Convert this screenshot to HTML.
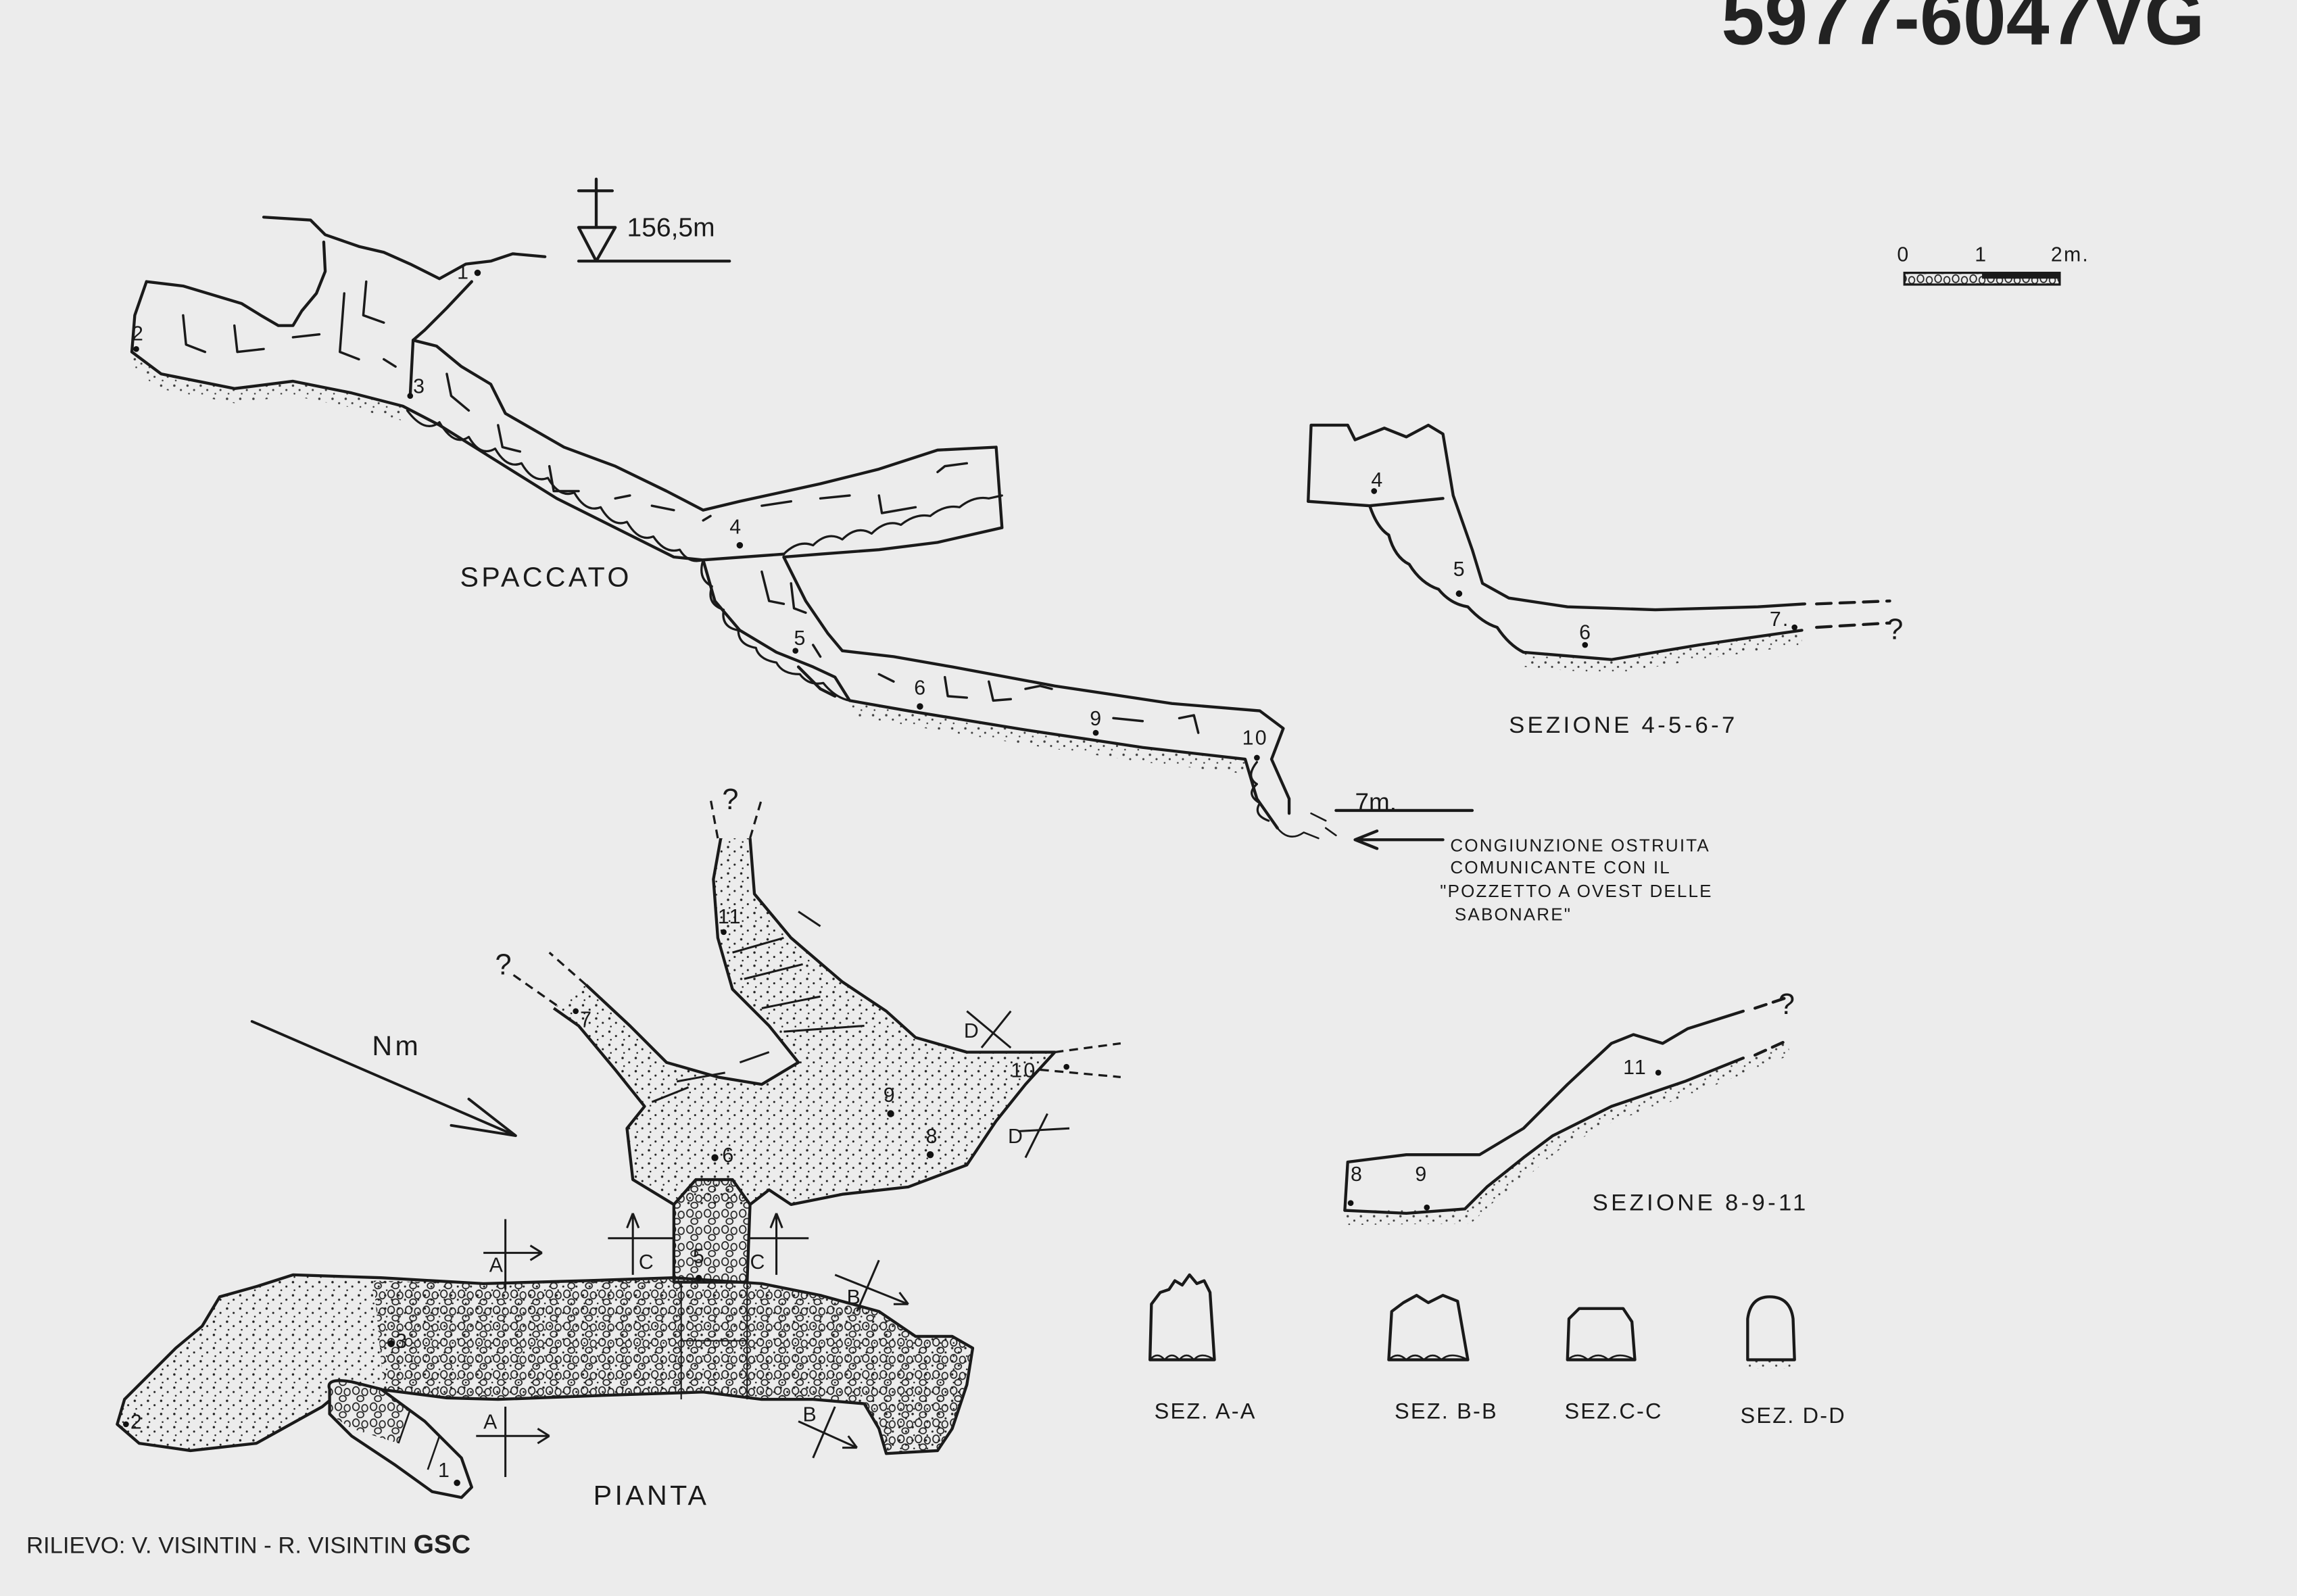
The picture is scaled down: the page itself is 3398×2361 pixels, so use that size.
<!DOCTYPE html>
<html><head><meta charset="utf-8"><style>
html,body{margin:0;padding:0;background:#ececec;}
svg{display:block;}
text{font-family:"Liberation Sans",sans-serif;fill:#1a1a1a;}
.h{font-size:19px;letter-spacing:2px;}
.s{font-size:14px;letter-spacing:1px;}
</style></head><body>
<svg width="3398" height="2361" viewBox="0 0 1568 1089" xmlns="http://www.w3.org/2000/svg">
<defs>
<pattern id="dots" width="9" height="9" patternUnits="userSpaceOnUse">
<circle cx="2" cy="2" r="0.8" fill="#222"/><circle cx="6.5" cy="5" r="0.7" fill="#222"/><circle cx="3" cy="7.5" r="0.6" fill="#222"/>
</pattern>
<pattern id="peb" width="12" height="11" patternUnits="userSpaceOnUse">
<ellipse cx="3" cy="3" rx="2.2" ry="2.6" fill="none" stroke="#222" stroke-width="0.8"/>
<ellipse cx="9" cy="4" rx="2" ry="2.4" fill="none" stroke="#222" stroke-width="0.8"/>
<ellipse cx="6" cy="8.5" rx="2.3" ry="2" fill="none" stroke="#222" stroke-width="0.8"/>
</pattern>
</defs>
<rect width="1568" height="1089" fill="#ececec"/>
<text x="1175" y="30" style="font-size:53px;font-weight:bold;fill:#222">5977-6047VG</text>
<text x="18" y="1060" style="font-size:16px;fill:#222">RILIEVO: V. VISINTIN - R. VISINTIN <tspan font-weight="bold" font-size="18">GSC</tspan></text>

<!-- stipple floors -->
<g opacity="0.85">
<polygon points="90,240 110,255 160,265 200,260 240,268 275,277 275,287 240,278 200,270 160,275 108,265 90,250" fill="url(#dots)"/>
<polygon points="580,478 620,485 700,498 780,510 850,518 850,528 780,520 700,508 620,495 580,488" fill="url(#dots)"/>
<polygon points="1040,445 1100,450 1160,440 1230,430 1230,440 1160,450 1100,460 1040,455" fill="url(#dots)"/>
<polygon points="918,826 1000,825 1015,810 1040,790 1060,775 1100,755 1150,738 1190,722 1220,710 1222,720 1192,732 1152,748 1102,765 1064,785 1046,800 1020,820 1004,835 918,836" fill="url(#dots)"/>
<rect x="1193" y="928" width="32" height="6" fill="url(#dots)"/>
</g>

<g fill="none" stroke="#1a1a1a" stroke-width="2" stroke-linejoin="round" stroke-linecap="round">
<!-- Spaccato -->
<path d="M180,148 L212,150 L222,160 L245,168 L262,172 L280,180 L300,190 L318,180 L335,178 L350,173 L372,175"/>
<path d="M90,240 L92,215 L100,192 L125,195 L165,207 L178,215 L190,222 L200,222 L206,212 L216,200 L222,185 L221,165"/>
<path d="M322,192 L305,210 L290,225 L282,232 L280,270"/>
<path d="M282,232 L298,236 L315,250 L335,262 L345,282 L385,305 L420,318 L455,335 L480,348 L505,342 L560,330 L600,320 L640,307 L680,305 L684,360 L640,370 L600,375 L560,378 L535,380 L550,410 L565,432 L575,444"/>
<path d="M90,240 L110,255 L160,265 L200,260 L240,268 L275,277 L300,290 L340,315 L380,340 L420,360 L460,380 L480,382 L535,378"/>
<path d="M480,382 L488,410 L505,430 L530,445 L555,455 L570,462 L580,478 L620,485 L700,498 L780,510 L850,518 L858,545 L872,565"/>
<path d="M575,444 L610,448 L650,455 L720,468 L800,480 L860,485 L876,497 L868,518 L880,545 L880,555"/>
<path d="M545,455 L560,470 L570,475"/>
<path d="M125,215 L127,235 L140,240 M160,222 L162,240 L180,238 M250,192 L248,215 L262,220 M200,230 L218,228 M235,200 L232,240 L245,245 M262,245 L270,250 M305,255 L308,270 L320,280 M340,290 L343,305 L355,308 M375,318 L378,335 L395,335 M420,340 L430,338 M445,345 L460,348 M480,355 L485,352 M520,345 L540,342 M560,340 L580,338 M600,338 L602,350 L625,346 M640,322 L645,318 L660,316 M520,390 L525,410 L535,412 M540,398 L542,415 L550,418 M555,440 L560,448 M600,460 L610,465 M645,462 L647,475 L660,476 M675,465 L678,478 L690,477 M700,470 L710,468 L718,470 M760,490 L780,492 M805,490 L815,488 L818,500" stroke-width="1.6"/>
<path d="M278,280 Q290,296 300,288 Q310,305 320,298 Q328,312 338,306 Q346,320 356,316 Q364,330 374,326 Q382,340 392,336 Q400,350 410,346 Q418,360 428,356 Q436,370 446,366 Q454,378 464,375 Q470,385 480,382" stroke-width="1.5"/>
<path d="M535,378 Q545,368 555,372 Q565,362 575,368 Q585,358 595,364 Q605,354 615,358 Q625,350 635,352 Q645,344 655,346 Q665,338 675,340 L684,338" stroke-width="1.5"/>
<path d="M480,382 Q476,395 486,400 Q482,412 494,416 Q492,428 504,430 Q504,440 516,442 Q518,450 530,452 Q534,460 546,460 Q552,468 562,466 Q570,476 580,478" stroke-width="1.5"/>
<path d="M858,520 Q850,530 858,535 Q850,542 860,548 Q855,556 866,560" stroke-width="1.5"/>
<path d="M872,565 Q880,575 890,568 L900,572 M895,555 L905,560 M905,565 L912,570" stroke-width="1.2"/>
<path d="M395,130 L418,130 M407,122 L407,155 M395,155 L420,155 L407,178 Z M395,178 L498,178"/>
<path d="M912,553 L1005,553"/>
<path d="M925,573 L985,573 M925,573 L940,567 M925,573 L940,579"/>
<!-- Sezione 4-5-6-7 -->
<path d="M895,290 L893,342 M895,290 L920,290 L925,300 L945,292 L960,298 L975,290 L985,296 L992,338 L1005,375 L1012,398 L1030,408 L1070,414 L1130,416 L1200,414 L1232,412"/>
<path d="M893,342 L935,345 L985,340"/>
<path d="M935,345 Q940,360 948,365 Q952,380 962,385 Q970,398 982,402 Q990,412 1002,414 Q1012,425 1022,428 Q1030,440 1040,445 L1100,450 L1160,440 L1230,430"/>
<path d="M1240,412 L1290,410 M1240,428 L1290,425" stroke-dasharray="10,6"/>
<!-- Sezione 8-9-11 -->
<path d="M918,826 L920,793 L960,788 L1010,788 L1040,770 L1070,740 L1100,712 L1115,706 L1135,712 L1152,702 L1190,690"/>
<path d="M918,826 L960,828 L1000,825 L1015,810 L1040,790 L1060,775 L1100,755 L1150,738 L1190,722"/>
<path d="M1198,688 L1222,680 M1198,720 L1220,710" stroke-dasharray="8,5"/>
<!-- Sections -->
<path d="M785,928 L786,890 L792,882 L798,880 L802,874 L807,877 L812,870 L817,876 L822,874 L826,882 L829,928 Z"/>
<path d="M948,928 L950,895 L958,889 L967,884 L975,889 L985,884 L995,888 L1002,928 Z"/>
<path d="M1070,928 L1071,900 L1078,893 L1108,893 L1114,902 L1116,928 Z"/>
<path d="M1193,928 L1193,900 Q1195,885 1208,885 Q1222,885 1224,900 L1225,928 Z"/>
<path d="M785,928 Q790,922 795,928 Q800,922 805,928 Q810,922 815,928 Q820,922 829,928 M948,928 Q954,922 960,928 Q966,922 972,928 Q978,922 984,928 Q990,922 1002,928 M1070,928 Q1077,922 1084,928 Q1091,922 1098,928 Q1105,922 1116,928" stroke-width="1.2"/>
<path d="M172,697 L352,775 M352,775 L308,768 M352,775 L320,750" stroke-width="1.8"/>
</g>

<!-- Pianta -->
<g stroke="#1a1a1a" stroke-width="2" stroke-linejoin="round" fill="none">
<path d="M460,822 L432,805 L428,770 L440,755 L420,730 L395,700 L378,688 L400,672 L430,700 L455,725 L490,735 L520,740 L545,725 L525,700 L500,675 L490,640 L487,600 L492,572 L512,572 L515,610 L540,640 L575,670 L605,690 L625,708 L660,718 L720,718 L700,740 L680,765 L660,795 L620,810 L575,815 L540,822 L525,812 L512,822 Z" fill="url(#dots)" stroke="none"/>
<path d="M460,822 L432,805 L428,770 L440,755 L420,730 L395,700 L378,688"/>
<path d="M400,672 L430,700 L455,725 L490,735 L520,740 L545,725 L525,700 L500,675 L490,640 L487,600 L492,572"/>
<path d="M512,572 L515,610 L540,640 L575,670 L605,690 L625,708 L660,718 L720,718 L700,740 L680,765 L660,795 L620,810 L575,815 L540,822 L525,812 L512,822"/>
<path d="M460,875 L460,822 L475,805 L500,805 L512,822 L510,875 Z" fill="url(#peb)"/>
<path d="M150,885 L175,878 L200,870 L260,872 L330,876 L400,874 L460,872 L520,876 L560,884 L600,895 L625,912 L650,912 L664,920 L660,945 L650,975 L640,990 L605,992 L600,975 L590,958 L555,955 L520,955 L480,950 L420,952 L340,955 L305,954 L258,948 L232,950 L220,960 L175,985 L130,990 L95,985 L80,972 L85,955 L105,935 L120,920 L138,905 Z" fill="url(#dots)"/>
<path d="M255,874 L330,876 L400,874 L460,872 L520,876 L560,884 L600,895 L625,912 L650,912 L664,920 L660,945 L650,975 L640,990 L605,992 L600,975 L590,958 L555,955 L520,955 L480,950 L420,952 L340,955 L305,954 L262,948 Z" fill="url(#peb)" stroke="none"/>
<path d="M225,948 Q222,940 240,943 L260,948 L290,970 L315,995 L322,1015 L315,1022 L295,1018 L270,1000 L240,980 L225,965 Z" fill="#ececec"/>
<path d="M225,948 Q222,940 240,943 L260,948 L280,962 L272,985 L240,975 L225,965 Z" fill="url(#peb)" stroke="none"/>
<path d="M280,962 L272,985 M300,980 L292,1003" stroke-width="1.2"/>
</g>
<g fill="none" stroke="#1a1a1a" stroke-width="1.4">
<path d="M445,752 L470,742 M462,738 L495,732 M505,725 L525,718 M500,650 L535,640 M508,668 L548,658 M520,688 L560,680 M535,704 L590,700 M545,622 L560,632"/>
<path d="M465,876 L465,955 M510,876 L510,955 M465,915 L510,915" stroke-width="1"/>
<path d="M490,572 L485,545 M512,572 L520,545 M380,686 L350,665 M400,672 L375,650 M720,718 L765,712 M710,730 L765,735" stroke-dasharray="6,4" stroke-width="1.5"/>
<path d="M330,855 L370,855 M345,832 L345,880 M370,855 L362,850 M370,855 L362,860"/>
<path d="M325,980 L375,980 M345,960 L345,1008 M375,980 L367,975 M375,980 L367,985"/>
<path d="M415,845 L460,845 M432,828 L432,870 M432,828 L428,838 M432,828 L436,838"/>
<path d="M512,845 L552,845 M530,828 L530,870 M530,828 L526,838 M530,828 L534,838"/>
<path d="M570,870 L620,890 M585,895 L600,860 M620,890 L610,890 M620,890 L614,882"/>
<path d="M545,970 L585,988 M555,995 L570,960 M585,988 L575,988 M585,988 L579,980"/>
<path d="M660,690 L690,715 M670,715 L690,690"/>
<path d="M695,772 L730,770 M700,790 L715,760"/>
</g>

<g fill="#111">
<circle cx="326" cy="186" r="2.2"/><circle cx="93" cy="238" r="2"/><circle cx="280" cy="270" r="2"/><circle cx="505" cy="372" r="2.2"/><circle cx="543" cy="444" r="2"/><circle cx="628" cy="482" r="2.2"/><circle cx="748" cy="500" r="2"/><circle cx="858" cy="517" r="2"/>
<circle cx="938" cy="335" r="2"/><circle cx="996" cy="405" r="2.2"/><circle cx="1082" cy="440" r="2"/><circle cx="1225" cy="428" r="2"/>
<circle cx="922" cy="821" r="2"/><circle cx="974" cy="824" r="2"/><circle cx="1132" cy="732" r="2"/>
<circle cx="267" cy="917" r="2.4"/><circle cx="86" cy="972" r="2"/><circle cx="312" cy="1012" r="2.2"/><circle cx="477" cy="872" r="2"/><circle cx="488" cy="790" r="2.4"/><circle cx="608" cy="760" r="2.4"/><circle cx="635" cy="788" r="2.4"/><circle cx="393" cy="690" r="2"/><circle cx="494" cy="636" r="2"/><circle cx="728" cy="728" r="2"/>
</g>
<g class="s">
<text x="312" y="190">1</text><text x="90" y="232">2</text><text x="282" y="268">3</text><text x="498" y="364">4</text><text x="542" y="440">5</text><text x="624" y="474">6</text><text x="744" y="495">9</text><text x="848" y="508">10</text>
<text x="936" y="332">4</text><text x="992" y="393">5</text><text x="1078" y="436">6</text><text x="1208" y="427">7.</text>
<text x="922" y="806">8</text><text x="966" y="806">9</text><text x="1108" y="733">11</text>
<text x="270" y="920">3</text><text x="89" y="975">2</text><text x="299" y="1008">1</text><text x="473" y="862">5</text><text x="493" y="793">6</text><text x="603" y="752">9</text><text x="632" y="780">8</text><text x="396" y="700">7</text><text x="490" y="630">11</text><text x="690" y="735">10</text>
<text x="334" y="868">A</text><text x="330" y="975">A</text><text x="436" y="866">C</text><text x="512" y="866">C</text><text x="578" y="890">B</text><text x="548" y="970">B</text><text x="658" y="708">D</text><text x="688" y="780">D</text>
</g>
<g style="font-size:20px">
<text x="338" y="665">?</text><text x="493" y="552">?</text><text x="1288" y="436">?</text><text x="1214" y="692">?</text>
</g>
<text x="428" y="161" style="font-size:18px">156,5m</text>
<text x="925" y="553" style="font-size:17px">7m.</text>
<text x="314" y="400" class="h">SPACCATO</text>
<text x="254" y="720" class="h">Nm</text>
<text x="405" y="1027" class="h">PIANTA</text>
<text x="1030" y="500" class="h" style="font-size:16px">SEZIONE  4-5-6-7</text>
<text x="1087" y="826" class="h" style="font-size:16px">SEZIONE 8-9-11</text>
<g class="s" style="font-size:12px">
<text x="990" y="581">CONGIUNZIONE OSTRUITA</text>
<text x="990" y="596">COMUNICANTE CON IL</text>
<text x="983" y="612">"POZZETTO A OVEST DELLE</text>
<text x="993" y="628">SABONARE"</text>
</g>
<g class="s" style="font-size:15px">
<text x="788" y="968">SEZ. A-A</text><text x="952" y="968">SEZ. B-B</text><text x="1068" y="968">SEZ.C-C</text><text x="1188" y="971">SEZ. D-D</text>
</g>
<g>
<rect x="1300" y="186" width="106" height="8" fill="url(#peb)" stroke="#1a1a1a" stroke-width="1.5"/>
<rect x="1353" y="186" width="53" height="4" fill="#1a1a1a"/>
<text x="1295" y="178" class="s">0</text><text x="1348" y="178" class="s">1</text><text x="1400" y="178" class="s">2m.</text>
</g>
</svg>
</body></html>
